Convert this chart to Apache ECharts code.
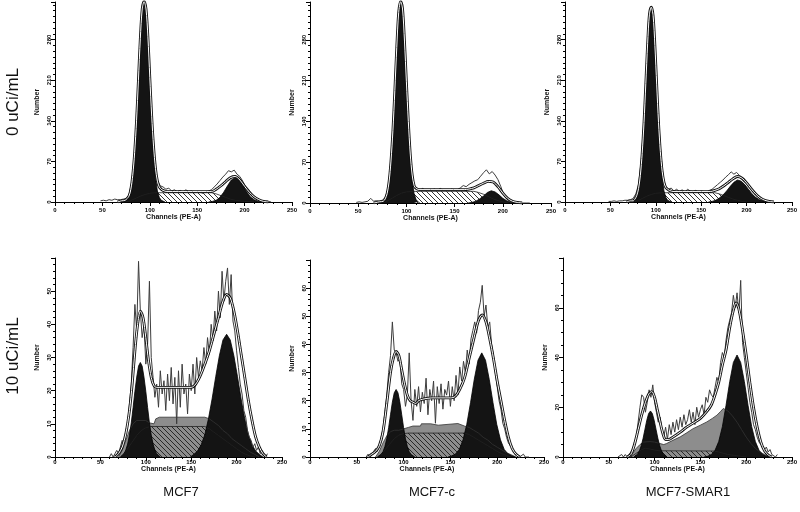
<!DOCTYPE html>
<html><head><meta charset="utf-8">
<script src="https://cdn.jsdelivr.net/npm/echarts@6/dist/echarts.min.js"></script>
<style>html,body{margin:0;padding:0;background:#fff}#c{width:800px;height:512px}</style>
</head><body><div id="c"></div><script>
// ---------------- DATA ----------------
const columnLabels = ['MCF7', 'MCF7-c', 'MCF7-SMAR1'];
const rowLabels = ['0 uCi/mL', '10 uCi/mL'];
const xAxisName = 'Channels (PE-A)';
const yAxisName = 'Number';
const xTicks = [0, 50, 100, 150, 200, 250];
const yTicksTop = [0, 70, 140, 210, 280];
const yTicksBotA = [0, 10, 20, 30, 40, 50];
const yTicksBotB = [0, 10, 20, 30, 40, 50, 60];
const yTicksBotC = [0, 20, 40, 60];

// raw histogram channels
const rawChTop = [48,51,54,57,60,63,66,69,72,75,78,81,84,87,90,93,96,99,102,105,108,111,114,117,120,123,126,129,132,135,138,141,144,147,150,153,156,159,162,165,168,171,174,177,180,183,186,189,192,195,198,201,204,207,210,213,216,219,222,225,228];
const rawChBot = [60,62,64,66,68,70,72,74,76,78,80,82,84,86,88,90,92,94,96,98,100,102,104,106,108,110,112,114,116,118,120,122,124,126,128,130,132,134,136,138,140,142,144,146,148,150,152,154,156,158,160,162,164,166,168,170,172,174,176,178,180,182,184,186,188,190,192,194,196,198,200,202,204,206,208,210,212,214,216,218,220,222,224,226,228,230,232,234];

// ---- top row (0 uCi/mL) ----
const rawTopA = [2,3,2,4,3,5,4,4,5,6, 12,35,85,170,280,338,330,245,140,65, 38,28,26,22,24,19,21,18,20,17, 21,18,19,16,18,17,15,17,19,21, 26,31,37,43,48,54,52,55,48,44, 36,27,22,15,10,7,4,2,1,1, 0];
const rawTopB = [1,2,1,2,3,8,3,4,3,5, 9,25,72,150,260,335,340,245,140,60, 30,24,22,25,21,23,22,24,21,25, 22,23,21,24,22,23,26,30,28,32, 35,38,40,46,52,57,50,54,48,40, 28,14,8,4,2,1,1,0,0,0, 0];
const rawTopC = [1,1,2,1,2,2,3,3,4,6, 14,30,72,140,235,318,333,270,170,95, 42,26,22,24,19,22,18,21,17,22, 19,18,20,17,19,18,17,20,22,26, 30,34,38,43,47,52,48,51,46,42, 38,30,24,18,12,8,5,3,2,1, 0];

const topA_G1 = [[72,0],[74,1],[76,3],[78,8],[80,19],[82,42],[84,79],[86,133],[88,201],[90,272],[92,322],[94,340],[96,322],[98,272],[100,201],[102,133],[104,79],[106,42],[108,19],[110,8],[112,3],[114,1],[116,0]];
const topA_G2 = [[162,0],[166,1],[170,3],[174,8],[178,17],[182,28],[186,38],[190,42],[194,38],[198,29],[202,18],[206,9],[210,4],[214,1.5],[218,0.5],[222,0]];
const topA_S = [[72,0],[78,1],[82,4],[86,7],[90,10],[95,13],[100,15],[105,16],[165,16],[170,14],[175,11],[180,8],[185,5],[190,3],[200,1],[210,0]];
const topA_fit = [[66,0],[70,2],[74,3],[78,10],[80,22],[82,46],[84,85],[86,140],[88,210],[90,282],[92,333],[94,346],[96,333],[98,285],[100,215],[102,148],[104,95],[106,58],[108,36],[110,26],[112,22],[114,20],[118,18],[130,18],[140,18],[150,18],[160,18],[165,18],[170,22],[175,28],[180,35],[185,42],[190,44],[195,38],[200,27],[205,17],[210,9],[215,4],[220,1],[225,0]];

const topB_G1 = [[72,0],[76,2],[78,5],[80,13],[82,32],[84,66],[86,117],[88,185],[90,258],[92,318],[94,340],[96,325],[98,270],[100,200],[102,130],[104,74],[106,37],[108,16],[110,6],[112,2],[114,0]];
const topB_G2 = [[164,0],[168,1],[172,3],[176,7],[180,12],[184,18],[188,21],[192,19],[196,14],[200,8],[204,4],[208,1.5],[212,0.5],[216,0]];
const topB_S = [[72,0],[78,2],[82,5],[86,9],[90,13],[95,17],[100,19],[107,20],[170,20],[175,18],[180,15],[185,11],[190,7],[195,4],[200,2],[206,0]];
const topB_fit = [[66,0],[72,2],[76,3],[78,7],[80,16],[82,36],[84,72],[86,124],[88,193],[90,267],[92,327],[94,346],[96,333],[98,278],[100,208],[102,140],[104,84],[106,48],[108,30],[110,25],[114,23],[160,23],[165,24],[170,26],[175,30],[180,34],[185,37],[190,36],[195,28],[200,17],[205,8],[210,3],[215,1],[220,0]];

const topC_G1 = [[73,0],[75,1],[77,3],[79,8],[81,19],[83,41],[85,77],[87,129],[89,195],[91,264],[93,316],[95,330],[97,316],[99,264],[101,195],[103,129],[105,77],[107,41],[109,19],[111,8],[113,3],[115,1],[117,0]];
const topC_G2 = [[158,0],[162,1],[166,3],[170,7],[174,12],[178,19],[182,27],[186,34],[190,38],[194,36],[198,30],[202,22],[206,14],[210,8],[214,4],[218,2],[222,0.5],[226,0]];
const topC_S = [[74,0],[80,2],[85,6],[90,10],[95,13],[100,15],[107,16],[165,16],[170,14],[175,11],[180,8],[185,5],[190,3],[195,1],[200,0]];
const topC_fit = [[68,0],[72,2],[75,2],[77,5],[79,11],[81,23],[83,46],[85,84],[87,137],[89,204],[91,273],[93,324],[95,336],[97,322],[99,270],[101,202],[103,137],[105,87],[107,53],[109,34],[111,25],[115,20],[120,18],[160,18],[165,20],[170,23],[175,28],[180,34],[185,40],[190,44],[195,41],[200,33],[205,23],[210,14],[215,7],[220,3],[225,1],[230,0]];

// ---- bottom row (10 uCi/mL) ----
const rawBotA = [0,1,0,1,2,1,3,5,4,8, 10,16,22,33,46,38,59,44,36,40, 28,34,53,30,24,18,22,15,26,19, 23,14,25,17,27,16,24,10,26,15, 28,19,22,13,25,20,28,19,30,24, 29,26,33,28,36,31,40,35,44,38, 50,42,56,47,53,57,46,55,41,38, 32,27,22,19,14,12,8,6,5,3, 4,2,3,1,2,1,0,1];
const rawBotB = [0,1,0,1,2,3,2,4,7,10, 16,22,30,36,48,38,37,34,35,26, 24,18,22,37,20,13,24,18,25,16, 23,19,28,15,24,20,27,12,25,19, 26,17,24,22,27,18,25,20,29,22, 32,27,34,30,38,33,42,45,48,44, 52,55,61,50,54,46,48,40,36,30, 25,20,17,12,10,7,5,4,3,2, 1,1,0,0,1,0,0,0];
const rawBotC = [0,0,1,0,1,0,1,2,3,6, 8,14,20,25,24,18,22,27,24,29, 22,18,14,16,11,8,12,7,13,9, 14,10,15,11,16,12,17,13,15,19, 14,18,13,20,16,19,21,17,24,22, 27,25,24,28,32,30,38,42,40,47, 52,55,58,65,60,66,58,71,46,40, 34,28,22,18,13,11,8,6,5,4, 3,4,2,3,1,1,0,1];

const botA_grey = [[70,0],[74,2],[78,5],[82,8],[86,10],[90,11],[100,11],[104,10.3],[109,10],[111,11.5],[115,12],[165,12],[170,11.5],[175,10.5],[180,9.5],[185,8],[190,7],[195,5.5],[200,4.5],[205,3.5],[210,2.5],[215,1.5],[220,0.8],[225,0]];
const botA_S = [[72,0],[76,1],[80,2.5],[85,4.5],[90,6.5],[95,8],[100,8.8],[105,9.2],[165,9.2],[170,8.5],[175,7.5],[180,6.5],[185,5.5],[190,4.5],[195,3.5],[200,2.5],[205,1.5],[210,0.8],[215,0.3],[220,0]];
const botA_G1 = [[72,0],[74,0.5],[76,1],[78,2.1],[80,3.9],[82,6.6],[84,10.3],[86,14.9],[88,19.8],[90,24.1],[92,27.4],[94,28.5],[96,27.4],[98,24.1],[100,19.8],[102,14.9],[104,10.3],[106,6.6],[108,3.9],[110,2.1],[112,1],[114,0.5],[116,0]];
const botA_G2 = [[149,0],[153,0.8],[157,1.8],[161,3.7],[165,6.7],[169,11.5],[173,17.5],[177,24.2],[181,30.5],[185,35.3],[189,37],[193,35.3],[197,30.5],[201,24.2],[205,17.5],[209,11.5],[213,6.7],[217,3.7],[221,1.8],[225,0.8],[229,0]];
const botA_fit = [[66,0],[70,1],[74,3],[78,7],[82,14],[85,22],[88,32],[91,40],[94,44],[97,42],[100,36],[103,29],[106,24],[109,21.5],[112,21],[150,21],[155,22],[160,24.5],[165,28],[170,32],[175,37],[180,42],[185,47],[189,49],[193,48],[197,44],[201,38],[205,31],[209,24],[213,17],[217,11],[221,6],[225,3],[229,1],[233,0]];

const botB_grey = [[70,0],[74,2],[78,5],[82,7.5],[86,9],[90,9.5],[95,9.5],[100,10],[105,10.5],[110,11],[118,11],[119,11.8],[129,11.8],[130,11.3],[137,11.3],[138,11.9],[158,11.9],[160,11.2],[165,11],[170,10.5],[175,9.5],[180,8.5],[185,7],[190,6],[195,4.5],[200,3.5],[205,2.5],[210,1.5],[215,0.8],[220,0]];
const botB_S = [[72,0],[76,1],[80,2.5],[85,4.5],[90,6.5],[95,7.8],[100,8.3],[105,8.5],[165,8.5],[170,8],[175,7],[180,6],[185,5],[190,4],[195,3],[200,2],[205,1.2],[210,0.5],[215,0]];
const botB_G1 = [[72,0],[74,0.4],[76,0.9],[78,1.9],[80,3.7],[82,6.5],[84,10.4],[86,15],[88,19.5],[90,22.8],[92,24],[94,22.8],[96,19.5],[98,15],[100,10.4],[102,6.5],[104,3.7],[106,1.9],[108,0.9],[110,0.4],[112,0]];
const botB_G2 = [[147.5,0],[151.5,0.4],[155.5,1.1],[159.5,2.7],[163.5,6.1],[167.5,11.6],[171.5,19.3],[175.5,27.6],[179.5,34.4],[183.5,37],[187.5,34.4],[191.5,27.6],[195.5,19.3],[199.5,11.6],[203.5,6.1],[207.5,2.7],[211.5,1.1],[215.5,0.4],[219.5,0]];
const botB_fit = [[62,0],[66,1],[70,2],[74,4],[78,9],[82,19],[86,30],[89,35],[92,37.5],[95,36],[98,31],[101,26],[104,22],[107,20],[110,19.5],[113,19],[116,20],[120,20.5],[130,21],[150,21],[155,21.5],[160,24],[165,28],[170,35],[175,42],[180,48.5],[184,50.5],[188,48],[192,42],[196,35],[200,27],[204,20],[208,13],[212,7],[216,3],[220,1],[224,0]];

const botC_grey = [[72,0],[76,1.5],[80,3.5],[84,5],[88,6],[95,6.2],[100,6],[105,5.5],[110,5],[113,5.4],[120,6.7],[128,8.1],[135,9.7],[142,11.4],[150,12.8],[157,14.1],[163,15.5],[168,16.8],[172,18.3],[175,19.5],[180,18.5],[185,16.5],[190,14],[195,11],[200,8],[205,5.5],[210,3.5],[215,2],[220,1],[225,0]];
const botC_S = [[74,0],[78,1],[82,2],[86,3],[90,3.5],[95,3.2],[100,2.8],[105,2.5],[165,2.4],[170,2],[175,1.5],[180,1],[190,0.5],[200,0]];
const botC_G1 = [[77.5,0],[79.5,0.5],[81.5,1.2],[83.5,2.5],[85.5,4.6],[87.5,7.6],[89.5,11.2],[91.5,14.8],[93.5,17.5],[95.5,18.5],[97.5,17.5],[99.5,14.8],[101.5,11.2],[103.5,7.6],[105.5,4.6],[107.5,2.5],[109.5,1.2],[111.5,0.5],[113.5,0]];
const botC_G2 = [[154,0],[158,0.3],[162,1],[166,2.7],[170,6.2],[174,12.2],[178,20.8],[182,30.3],[186,38],[190,41],[194,38],[198,30.3],[202,20.8],[206,12.2],[210,6.2],[214,2.7],[218,1],[222,0.3],[226,0]];
const botC_fit = [[70,0],[74,1],[78,5],[82,11],[86,17],[90,22],[94,25.5],[97,26.3],[100,24],[103,19],[106,14],[109,9.5],[112,7],[115,7],[120,8],[128,10],[135,12],[142,13.6],[150,15.5],[157,18.3],[162,21],[166,25],[170,30],[174,37],[178,43],[182,52],[186,59],[189,62],[192,59.5],[196,51],[200,41],[204,30],[208,20],[212,12],[216,6],[220,2.5],[224,0.8],[228,0]];

// ---------------- LAYOUT / STYLE ----------------
const panels = [
  {grid:{left:55, top:2, width:237, height:200}, yMax:345, yInt:70, yMinor:7, labelMargin:5, nameGap:11,
   raw:rawTopA, rawCh:rawChTop, S:topA_S, G1:topA_G1, G2:topA_G2, fit:topA_fit},
  {grid:{left:310, top:2, width:241, height:201}, yMax:345, yInt:70, yMinor:7, labelMargin:5, nameGap:11,
   raw:rawTopB, rawCh:rawChTop, S:topB_S, G1:topB_G1, G2:topB_G2, fit:topB_fit},
  {grid:{left:565, top:2, width:228, height:200}, yMax:345, yInt:70, yMinor:7, labelMargin:5, nameGap:11,
   raw:rawTopC, rawCh:rawChTop, S:topC_S, G1:topC_G1, G2:topC_G2, fit:topC_fit},
  {grid:{left:55, top:258, width:227, height:199}, yMax:60, yInt:10, yMinor:5, labelMargin:2, nameGap:7,
   raw:rawBotA, rawCh:rawChBot, grey:botA_grey, S:botA_S, G1:botA_G1, G2:botA_G2, fit:botA_fit},
  {grid:{left:310, top:260, width:234, height:197}, yMax:70, yInt:10, yMinor:5, labelMargin:2, nameGap:7,
   raw:rawBotB, rawCh:rawChBot, grey:botB_grey, S:botB_S, G1:botB_G1, G2:botB_G2, fit:botB_fit},
  {grid:{left:563, top:258, width:229, height:199}, yMax:80, yInt:20, yMinor:4, labelMargin:2, nameGap:7,
   raw:rawBotC, rawCh:rawChBot, grey:botC_grey, S:botC_S, G1:botC_G1, G2:botC_G2, fit:botC_fit}
];

function hatchPattern() {
  const c = document.createElement('canvas');
  c.width = 5; c.height = 5;
  const g = c.getContext('2d');
  g.strokeStyle = '#1e1e1e';
  g.lineWidth = 0.9;
  g.beginPath();
  g.moveTo(-1, -1); g.lineTo(6, 6);
  g.moveTo(4, -1); g.lineTo(6, 1);
  g.moveTo(-1, 4); g.lineTo(1, 6);
  g.stroke();
  return c;
}
const hatch = hatchPattern();
const FONT = 'Liberation Sans, Arial, sans-serif';

const grids = [], xAxes = [], yAxes = [], series = [];
panels.forEach((p, i) => {
  grids.push(Object.assign({containLabel:false}, p.grid));
  xAxes.push({
    type:'value', gridIndex:i, min:0, max:250, interval:50,
    name:xAxisName, nameLocation:'middle', nameGap:p.nameGap,
    nameTextStyle:{fontSize:7, fontWeight:'bold', color:'#111', fontFamily:FONT},
    axisLine:{show:true, onZero:false, lineStyle:{color:'#000', width:1}},
    axisTick:{show:true, length:4, lineStyle:{color:'#000', width:1}},
    minorTick:{show:true, splitNumber:5, length:2, lineStyle:{color:'#000', width:1}},
    splitLine:{show:false},
    axisLabel:{fontSize:6, color:'#000', margin:p.labelMargin, fontFamily:FONT, fontWeight:'bold'}
  });
  yAxes.push({
    type:'value', gridIndex:i, min:0, max:p.yMax, interval:p.yInt,
    name:yAxisName, nameLocation:'middle', nameGap:14, nameRotate:90,
    nameTextStyle:{fontSize:7, fontWeight:'bold', color:'#111', fontFamily:FONT},
    axisLine:{show:true, lineStyle:{color:'#000', width:1}},
    axisTick:{show:true, length:4, lineStyle:{color:'#000', width:1}},
    minorTick:{show:true, splitNumber:p.yMinor, length:2, lineStyle:{color:'#000', width:1}},
    splitLine:{show:false},
    axisLabel:{fontSize:6, color:'#000', margin:3, rotate:90, showMaxLabel:false, fontFamily:FONT, fontWeight:'bold'}
  });
  const base = {type:'line', xAxisIndex:i, yAxisIndex:i, showSymbol:false, symbol:'none', silent:true, animation:false};
  if (p.grey) {
    series.push(Object.assign({}, base, {data:p.grey, lineStyle:{color:'#333', width:0.8},
      areaStyle:{color:'#8d8d8d', opacity:1}}));
  }
  series.push(Object.assign({}, base, {data:p.S, lineStyle:{color:'#222', width:0.8},
    areaStyle:{color:{image:hatch, repeat:'repeat'}, opacity:1}}));
  series.push(Object.assign({}, base, {data:p.G1, lineStyle:{color:'#000', width:0.8},
    areaStyle:{color:'#141414', opacity:1}}));
  series.push(Object.assign({}, base, {data:p.G2, lineStyle:{color:'#000', width:0.8},
    areaStyle:{color:'#141414', opacity:1}}));
  const raw = p.rawCh.map((c, k) => [c, p.raw[k]]);
  series.push(Object.assign({}, base, {data:raw, lineStyle:{color:'#3c3c3c', width:1}}));
  series.push(Object.assign({}, base, {data:p.fit, smooth:0.3, lineStyle:{color:'#111', width:2.8}}));
  series.push(Object.assign({}, base, {data:p.fit, smooth:0.3, lineStyle:{color:'#fff', width:1}}));
});

const graphics = [
  {type:'text', x:13, y:102, rotation:Math.PI/2, style:{text:rowLabels[0], fontSize:17, fontFamily:FONT, fill:'#111', align:'center', verticalAlign:'middle'}},
  {type:'text', x:13, y:356, rotation:Math.PI/2, style:{text:rowLabels[1], fontSize:17, fontFamily:FONT, fill:'#111', align:'center', verticalAlign:'middle'}},
  {type:'text', x:181, y:492, style:{text:columnLabels[0], fontSize:13, fontFamily:FONT, fill:'#111', align:'center', verticalAlign:'middle'}},
  {type:'text', x:432, y:492, style:{text:columnLabels[1], fontSize:13, fontFamily:FONT, fill:'#111', align:'center', verticalAlign:'middle'}},
  {type:'text', x:688, y:492, style:{text:columnLabels[2], fontSize:13, fontFamily:FONT, fill:'#111', align:'center', verticalAlign:'middle'}}
];

const chart = echarts.init(document.getElementById('c'), null, {renderer:'canvas'});
chart.setOption({
  backgroundColor:'#fff',
  animation:false,
  grid:grids, xAxis:xAxes, yAxis:yAxes, series:series,
  graphic:graphics
});
</script></body></html>
